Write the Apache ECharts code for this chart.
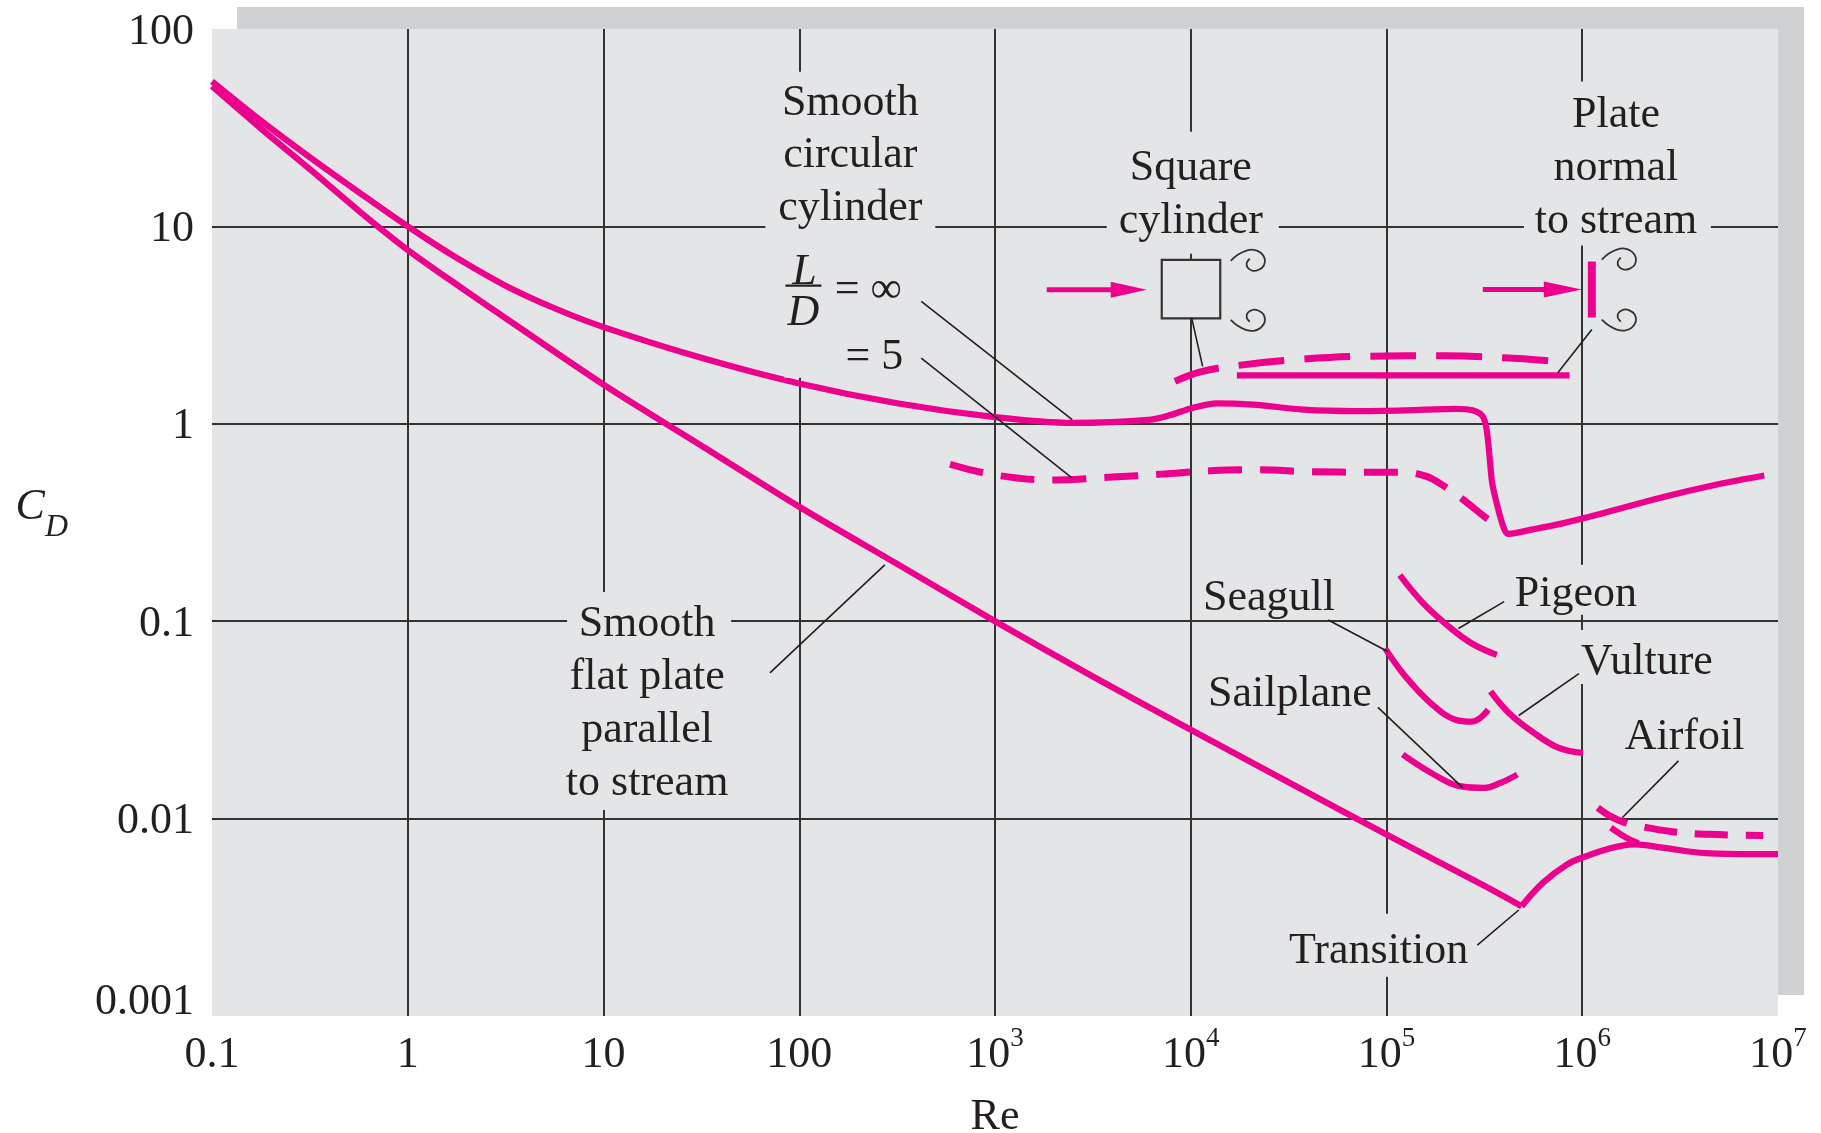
<!DOCTYPE html>
<html>
<head>
<meta charset="utf-8">
<script src="https://cdn.jsdelivr.net/npm/echarts@6/dist/echarts.min.js"></script>
<style>
html,body{margin:0;padding:0;background:#ffffff;}
#c{width:1821px;height:1133px;}
</style>
</head>
<body>
<div id="c"></div>
<script>
// ---------------- values (Re, C_D) ----------------
const xTickLabels = {'-1':'0.1','0':'1','1':'10','2':'100','3':'10{sup|3}','4':'10{sup|4}','5':'10{sup|5}','6':'10{sup|6}','7':'10{sup|7}'};
const yTickLabels = {'-3':'{lo|0.001}','-2':'0.01','-1':'0.1','0':'1','1':'10','2':'100'};

// Smooth circular cylinder, L/D = infinity (solid)
const cylInfRe = [0.1, 0.178, 0.316, 0.562, 1, 1.78, 3.16, 5.62, 10, 31.6, 100, 316, 1000, 2500, 6270, 7940, 10100, 13600, 20800, 37800, 69000, 126000, 228000, 275000, 309000, 323600, 335000, 346700, 371500, 398000, 417000, 562000, 794000, 1260000, 2510000, 5010000, 8510000];
const cylInfCd = [54.3, 34.3, 22.4, 14.9, 10, 6.92, 5.01, 3.85, 3.09, 2.16, 1.60, 1.27, 1.08, 1.01, 1.05, 1.11, 1.2, 1.27, 1.25, 1.18, 1.16, 1.17, 1.19, 1.17, 1.096, 0.955, 0.708, 0.50, 0.372, 0.295, 0.277, 0.292, 0.313, 0.351, 0.422, 0.495, 0.547];

// Smooth circular cylinder, L/D = 5 (dashed)
const cyl5Re = [589, 1000, 2000, 3980, 7080, 12600, 22400, 41700, 79400, 117500, 158500, 199500, 251000, 316000, 389000];
const cyl5Cd = [0.624, 0.55, 0.519, 0.537, 0.556, 0.578, 0.585, 0.571, 0.569, 0.569, 0.543, 0.479, 0.407, 0.339, 0.292];

// Square cylinder (dashed)
const squareRe = [8300, 11200, 15800, 31600, 79400, 200000, 398000, 708000];
const squareCd = [1.64, 1.83, 1.95, 2.10, 2.20, 2.21, 2.16, 2.08];

// Plate normal to stream (solid)
const plateNormalRe = [17200, 861000];
const plateNormalCd = [1.76, 1.76];

// Smooth flat plate parallel to stream: laminar part, then transition / turbulent part
const flatLamRe = [0.1, 0.178, 0.316, 0.562, 1, 1.78, 3.16, 10, 31.6, 100, 316, 1000, 3160, 10000, 31600, 100000, 316000, 490000];
const flatLamCd = [51.3, 31.3, 19.5, 12.0, 7.6, 5.07, 3.43, 1.58, 0.776, 0.38, 0.195, 0.1, 0.0525, 0.0282, 0.0153, 0.0083, 0.00457, 0.0036];
const flatTurbRe = [490000, 631000, 838000, 1000000, 1340000, 1850000, 2570000, 4270000, 7500000, 10000000];
const flatTurbCd = [0.0036, 0.00474, 0.00587, 0.00634, 0.0070, 0.00741, 0.00713, 0.00668, 0.0066, 0.0066];

// Airfoil (dashed and solid)
const airfoilDashRe = [1200000, 1410000, 1650000, 2000000, 2820000, 4470000, 8410000];
const airfoilDashCd = [0.01135, 0.0102, 0.00955, 0.00912, 0.00861, 0.00832, 0.00822];
const airfoilSolidRe = [1400000, 1580000, 1780000, 1940000];
const airfoilSolidCd = [0.009, 0.0083, 0.00776, 0.0075];

// Birds and sailplane
const pigeonRe = [117000, 152000, 204000, 273000, 366000];
const pigeonCd = [0.171, 0.125, 0.0955, 0.0771, 0.0675];
const seagullRe = [98400, 125000, 168000, 225000, 273000, 331000];
const seagullCd = [0.0728, 0.0524, 0.0385, 0.0317, 0.031, 0.0356];
const vultureRe = [340000, 423000, 566000, 759000, 1010000];
const vultureCd = [0.0441, 0.0342, 0.0272, 0.0228, 0.0215];
const sailplaneRe = [121000, 168000, 236000, 316000, 384000, 466000];
const sailplaneCd = [0.0211, 0.0171, 0.0146, 0.0143, 0.0152, 0.0167];

// ---------------- annotation layout (anchors in data space) ----------------
const textLabels = [
  {text: 'Smooth\ncircular\ncylinder', at: [182.4, 24.15], mask: [-85, -79, 85, 100]},
  {text: 'Square\ncylinder', at: [10000, 15.35], mask: [-84, -58, 88, 64]},
  {text: 'Plate\nnormal\nto stream', at: [1486000, 20.8], mask: [-92, -82, 95, 82]},
  {text: 'Smooth\nflat plate\nparallel\nto stream', at: [16.7, 0.0403], mask: [-80, -107, 84, 111]},
  {text: 'Seagull', at: [25100, 0.138]},
  {text: 'Pigeon', at: [927000, 0.1445], mask: [-62, -25, 62, 25]},
  {text: 'Vulture', at: [2140000, 0.0658], mask: [-68, -27, 68, 27]},
  {text: 'Sailplane', at: [32100, 0.0453]},
  {text: 'Airfoil', at: [3330000, 0.0272]},
  {text: 'Transition', at: [91200, 0.002244], mask: [-92, -33, 92, 30]},
  {text: '= 5', at: [242, 2.31]}
];
const icons = [
  {kind: 'fraction', at: [105, 4.78]},
  {kind: 'square', at: [10000, 4.83]},
  {kind: 'plate', at: [1119000, 4.786]}
];
const leaders = [
  [420, 4.17, 2480, 1.05],
  [420, 2.15, 2480, 0.531],
  [70.8, 0.0547, 273.5, 0.193],
  [10100, 3.45, 11500, 1.954],
  [1120000, 3.0, 750000, 1.816],
  [50400, 0.1014, 102000, 0.07],
  [90400, 0.0366, 245000, 0.01435],
  [399000, 0.1256, 233000, 0.0918],
  [962000, 0.0542, 474000, 0.0333],
  [3100000, 0.0196, 1600000, 0.0101],
  [291000, 0.002286, 474000, 0.003443]
];

// ---------------- styles ----------------
const PINK = '#EC008C';
const INK = '#231f20';
const PLOT_BG = '#e4e5e7';
const SHADOW = '#d0d1d3';
const GRIDC = '#333333';
const FONT = '"Liberation Serif", "DejaVu Serif", "Times New Roman", serif';
const TEXT_DY = 5;

function pairs(re, cd) { return re.map((r, i) => [r, cd[i]]); }
function curve(name, re, cd, dash, smooth) {
  return {
    name: name, type: 'line', data: pairs(re, cd), showSymbol: false, symbol: 'none',
    smooth: smooth, z: 3, silent: true, animation: false, clip: true,
    lineStyle: {color: PINK, width: dash ? 7 : 6.2, type: dash || 'solid', cap: 'butt', join: 'round'}
  };
}

const VORTEX = [[0,0],[7,-6],[15,-10],[23,-11],[30,-8],[34,-2],[33,5],[28,9],[22,10],[17,7],[16,2],[19,-2]];
function vortex(x, y, dir) {
  return {type: 'polyline', shape: {points: VORTEX.map(q => [x + q[0], y + dir * q[1]]), smooth: 0.4},
          style: {fill: 'none', stroke: '#333', lineWidth: 1.8}};
}
function txt(x, y, s, extra) {
  return {type: 'text', x: x, y: y + TEXT_DY, style: Object.assign({text: s, fontSize: 44, fontFamily: FONT, fill: INK,
    align: 'center', verticalAlign: 'middle', lineHeight: 52.8}, extra || {})};
}

function renderLabel(params, api) {
  const a = textLabels[api.value(2)];
  const p = api.coord([api.value(0), api.value(1)]);
  const ch = [];
  if (a.mask) {
    ch.push({type: 'rect', shape: {x: p[0] + a.mask[0], y: p[1] + a.mask[1], width: a.mask[2] - a.mask[0], height: a.mask[3] - a.mask[1]}, style: {fill: PLOT_BG}});
  }
  ch.push(txt(p[0], p[1], a.text));
  return {type: 'group', children: ch};
}

function renderIcon(params, api) {
  const a = icons[api.value(2)];
  const p = api.coord([api.value(0), api.value(1)]);
  const x = p[0], y = p[1];
  if (a.kind === 'fraction') {
    return {type: 'group', children: [
      {type: 'rect', shape: {x: x - 19, y: y - 40, width: 38, height: 128}, style: {fill: PLOT_BG}},
      txt(x + 1, y - 22, 'L', {fontStyle: 'italic'}),
      {type: 'line', shape: {x1: x - 18, y1: y - 4, x2: x + 18, y2: y - 4}, style: {stroke: INK, lineWidth: 2.2}},
      txt(x, y + 19, 'D', {fontStyle: 'italic'}),
      txt(x + 65, y - 4, '= \u221E')
    ]};
  }
  if (a.kind === 'square') {
    return {type: 'group', children: [
      {type: 'line', shape: {x1: x - 144, y1: y + 1, x2: x - 76, y2: y + 1}, style: {stroke: PINK, lineWidth: 5}},
      {type: 'polygon', shape: {points: [[x - 80, y - 7], [x - 44, y + 1], [x - 80, y + 9]]}, style: {fill: PINK}},
      {type: 'rect', shape: {x: x - 29, y: y - 29, width: 58.5, height: 58.5}, style: {fill: PLOT_BG, stroke: '#333', lineWidth: 2.2}},
      vortex(x + 40, y - 28, 1),
      vortex(x + 40, y + 31, -1)
    ]};
  }
  // plate normal to stream
  return {type: 'group', children: [
    {type: 'line', shape: {x1: x - 109, y1: y, x2: x - 44, y2: y}, style: {stroke: PINK, lineWidth: 5}},
    {type: 'polygon', shape: {points: [[x - 48, y - 8], [x - 10, y], [x - 48, y + 8]]}, style: {fill: PINK}},
    {type: 'rect', shape: {x: x - 4, y: y - 28, width: 8, height: 56}, style: {fill: PINK}},
    vortex(x + 10, y - 30, 1),
    vortex(x + 10, y + 30, -1)
  ]};
}

function renderLeader(params, api) {
  const p1 = api.coord([api.value(0), api.value(1)]);
  const p2 = api.coord([api.value(2), api.value(3)]);
  return {type: 'line', shape: {x1: p1[0], y1: p1[1], x2: p2[0], y2: p2[1]}, style: {stroke: INK, lineWidth: 1.6}};
}

const chart = echarts.init(document.getElementById('c'), null, {renderer: 'canvas', width: 1821, height: 1133});

const option = {
  animation: false,
  backgroundColor: '#ffffff',
  graphic: [{type: 'rect', z: -10, silent: true, shape: {x: 237, y: 7, width: 1567, height: 988}, style: {fill: SHADOW}}],
  grid: {left: 212, top: 29, width: 1566, height: 987, show: true, backgroundColor: PLOT_BG, borderWidth: 0, containLabel: false, outerBoundsMode: 'none'},
  xAxis: {
    type: 'log', logBase: 10, min: 0.1, max: 1e7, splitNumber: 8,
    axisLine: {show: false}, axisTick: {show: false},
    splitLine: {show: true, showMinLine: false, showMaxLine: false, lineStyle: {color: GRIDC, width: 2}},
    axisLabel: {
      interval: 0, margin: 9, fontSize: 44, fontFamily: FONT, color: INK, lineHeight: 60,
      showMinLabel: true, showMaxLabel: true, hideOverlap: false,
      formatter: v => xTickLabels[String(Math.round(Math.log10(v)))] || '',
      rich: {sup: {fontSize: 27, lineHeight: 27, verticalAlign: 'top', fontFamily: FONT, color: INK}}
    },
    name: 'Re', nameLocation: 'middle', nameGap: 79,
    nameTextStyle: {fontSize: 44, fontFamily: FONT, color: INK}
  },
  yAxis: {
    type: 'log', logBase: 10, min: 0.001, max: 100, splitNumber: 5,
    axisLine: {show: false}, axisTick: {show: false},
    splitLine: {show: true, showMinLine: false, showMaxLine: false, lineStyle: {color: GRIDC, width: 2}},
    axisLabel: {
      interval: 0, margin: 18, fontSize: 44, fontFamily: FONT, color: INK, padding: [6, 0, 0, 0],
      showMinLabel: true, showMaxLabel: true, hideOverlap: false,
      formatter: v => yTickLabels[String(Math.round(Math.log10(v)))] || '',
      rich: {lo: {fontSize: 44, fontFamily: FONT, color: INK, padding: [0, 0, 34, 0]}}
    },
    name: '{c|C}{d|D}', nameLocation: 'middle', nameRotate: 0, nameGap: 144,
    nameTextStyle: {
      align: 'right', verticalAlign: 'middle', padding: [0, 0, 16, 0],
      rich: {
        c: {fontSize: 44, fontStyle: 'italic', fontFamily: FONT, color: INK, verticalAlign: 'bottom', padding: [0, 0, 14, 0]},
        d: {fontSize: 32, fontStyle: 'italic', fontFamily: FONT, color: INK, verticalAlign: 'bottom'}
      }
    }
  },
  series: [
    {type: 'custom', name: 'labels', z: 2, silent: true, clip: false,
     data: textLabels.map((a, i) => [a.at[0], a.at[1], i]), encode: {x: 0, y: 1}, renderItem: renderLabel},
    {type: 'custom', name: 'icons', z: 4, silent: true, clip: false,
     data: icons.map((a, i) => [a.at[0], a.at[1], i]), encode: {x: 0, y: 1}, renderItem: renderIcon},
    {type: 'custom', name: 'leaders', z: 4, silent: true, clip: false,
     data: leaders, encode: {x: [0, 2], y: [1, 3]}, renderItem: renderLeader},
    curve('Smooth flat plate (laminar)', flatLamRe, flatLamCd, null, 0.3),
    curve('Smooth flat plate (transition)', flatTurbRe, flatTurbCd, null, 0.4),
    curve('Circular cylinder L/D = inf', cylInfRe, cylInfCd, null, 0.3),
    curve('Circular cylinder L/D = 5', cyl5Re, cyl5Cd, [34, 18], 0.4),
    curve('Square cylinder', squareRe, squareCd, [46, 20], 0.4),
    curve('Plate normal to stream', plateNormalRe, plateNormalCd, null, false),
    curve('Pigeon', pigeonRe, pigeonCd, null, 0.4),
    curve('Seagull', seagullRe, seagullCd, null, 0.4),
    curve('Vulture', vultureRe, vultureCd, null, 0.4),
    curve('Sailplane', sailplaneRe, sailplaneCd, null, 0.4),
    curve('Airfoil (dashed)', airfoilDashRe, airfoilDashCd, [33, 18], 0.4),
    curve('Airfoil (solid)', airfoilSolidRe, airfoilSolidCd, null, 0.4)
  ]
};
chart.setOption(option);
</script>
</body>
</html>
